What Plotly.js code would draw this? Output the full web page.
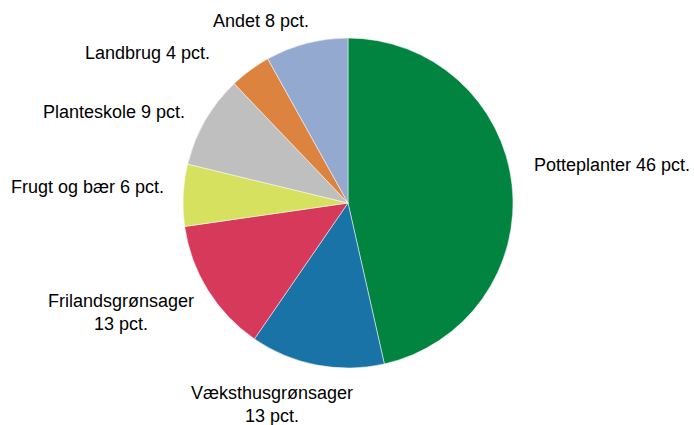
<!DOCTYPE html>
<html>
<head>
<meta charset="utf-8">
<script src="https://cdn.plot.ly/plotly-3.0.1.min.js"></script>
<style>html,body{margin:0;padding:0;background:#fff;}#chart{width:694px;height:425px;}</style>
</head>
<body>
<div id="chart"></div>
<script>
const categories = ["Potteplanter", "Væksthusgrønsager", "Frilandsgrønsager", "Frugt og bær", "Planteskole", "Landbrug", "Andet"];
const values = [46, 13, 13, 6, 9, 4, 8];
const labelTexts = ["Potteplanter 46 pct.", "Væksthusgrønsager<br>13 pct.", "Frilandsgrønsager<br>13 pct.", "Frugt og bær 6 pct.", "Planteskole 9 pct.", "Landbrug 4 pct.", "Andet 8 pct."];
const colors = ["#00843F", "#1A73A6", "#D6395A", "#D7E160", "#BFBFBF", "#DC843F", "#93A9D0"];

// label placement (paper pixels): [x, y, anchor]
const labelPlacement = [
  [532, 165, "left"],
  [272, 404, "center"],
  [121, 312, "center"],
  [166, 187, "right"],
  [187, 112, "right"],
  [212, 53, "right"],
  [261, 21, "center"]
];

const W = 694, H = 425;
const FONT = "Liberation Sans, Arial, sans-serif";
const FSIZE = 18;

const trace = {
  type: "pie",
  labels: categories,
  values: values,
  textinfo: "none",
  sort: false,
  direction: "clockwise",
  rotation: 0,
  marker: {colors: colors, line: {color: "#ffffff", width: 0.5}},
  domain: {x: [(348 - 165) / W, (348 + 165) / W], y: [(H - 203 - 165) / H, (H - 203 + 165) / H]},
  automargin: false,
  hoverinfo: "none"
};

const annotations = labelTexts.map((t, i) => ({
  text: t,
  x: labelPlacement[i][0] / W,
  y: 1 - labelPlacement[i][1] / H,
  xref: "paper", yref: "paper",
  xanchor: labelPlacement[i][2],
  yanchor: "middle",
  align: "center",
  showarrow: false,
  font: {family: FONT, size: FSIZE, color: "#000000"}
}));

const layout = {
  width: W,
  height: H,
  margin: {l: 0, r: 0, t: 0, b: 0},
  showlegend: false,
  paper_bgcolor: "#ffffff",
  font: {family: FONT, size: FSIZE, color: "#000000"},
  annotations: annotations
};

Plotly.newPlot("chart", [trace], layout, {displayModeBar: false, staticPlot: true});
</script>
</body>
</html>
